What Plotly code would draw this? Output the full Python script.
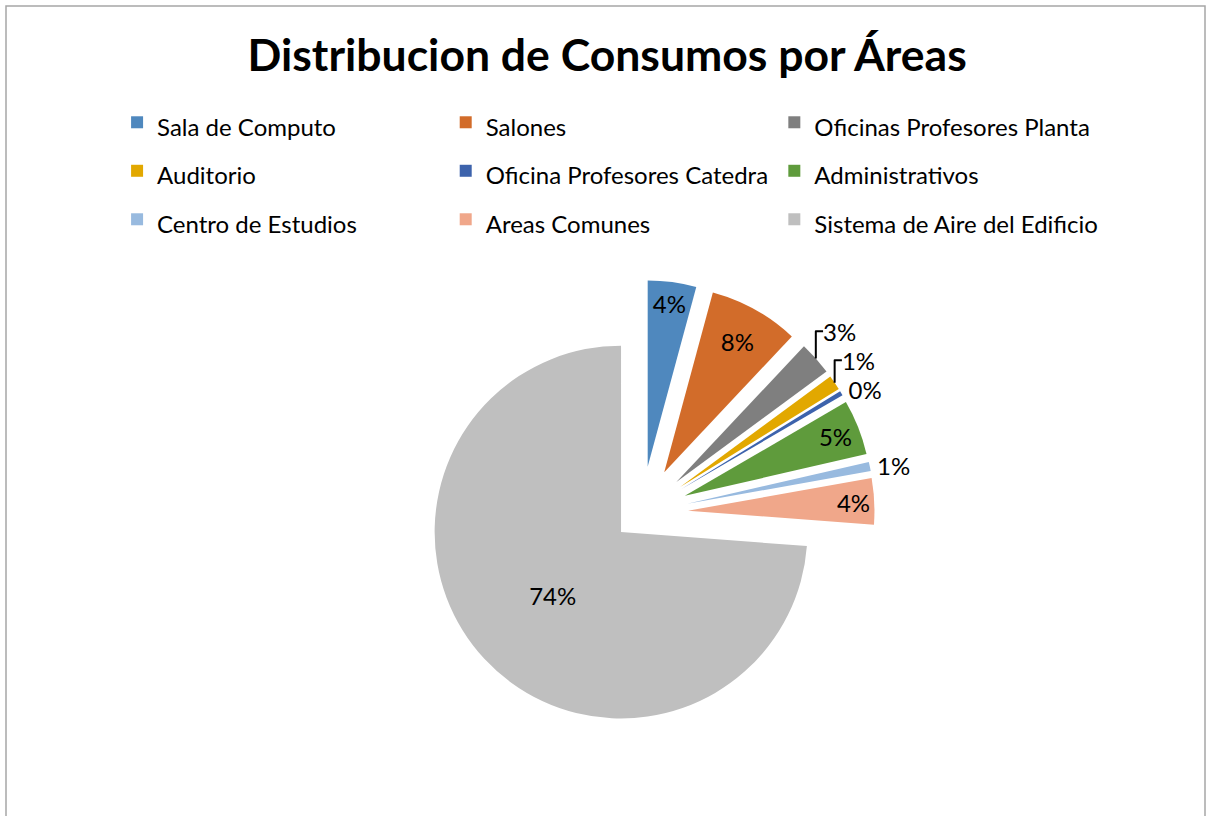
import plotly.graph_objects as go

# datos del grafico
areas = ["Sala de Computo", "Salones", "Oficinas Profesores Planta", "Auditorio",
         "Oficina Profesores Catedra", "Administrativos", "Centro de Estudios",
         "Areas Comunes", "Sistema de Aire del Edificio"]
consumo = [4.2, 7.8, 2.9, 1.3, 0.4, 4.8, 0.8, 4.0, 73.8]
colores = ["#4F88BE", "#D26C2A", "#7F7F7F", "#E2A800", "#3D63AC",
           "#5F9B3C", "#98BADF", "#F0A78A", "#BFBFBF"]
separacion = [0.25, 0.25, 0.25, 0.25, 0.25, 0.25, 0.25, 0.25, 0.15]
pos_texto = ["inside", "inside", "outside", "outside", "outside",
             "inside", "outside", "inside", "inside"]

fuente = "Lato"

# truco: fuente de leyenda grande para mas espacio entre filas
etiquetas = ["<span style='font-size:24px'>%s</span>" % a for a in areas]

fig = go.Figure()
fig.add_trace(go.Pie(
    labels=etiquetas,
    values=consumo,
    sort=False,
    direction="clockwise",
    rotation=0,
    pull=separacion,
    marker=dict(colors=colores, line=dict(width=0)),
    texttemplate="%{percent:.0%}",
    textposition=pos_texto,
    insidetextorientation="horizontal",
    textfont=dict(family=fuente, size=24, color="black"),
    domain=dict(x=[0.3356, 0.7245], y=[0.0864, 0.6617]),
    hoverinfo="skip",
))

fig.update_layout(
    width=1207, height=816,
    margin=dict(l=6, r=2, t=6, b=0, autoexpand=False),
    paper_bgcolor="white",
    plot_bgcolor="white",
    font=dict(family=fuente, color="black"),
    uniformtext=dict(minsize=24, mode="show"),
    title=dict(text="<b>Distribucion de Consumos por Áreas</b>",
               font=dict(family=fuente, size=44.5, color="black"),
               x=0.503, xanchor="center", y=0.932, yanchor="middle",
               xref="container", yref="container"),
    legend=dict(orientation="h", xref="container", yref="container",
                x=0.097, y=0.886, xanchor="left", yanchor="top",
                font=dict(family=fuente, size=35),
                itemwidth=30, traceorder="normal"),
    shapes=[dict(type="rect", xref="paper", yref="paper",
                 x0=0, x1=1, y0=-0.05, y1=1,
                 line=dict(color="#A6A6A6", width=1.5))],
)

# quitar el margen del body para que el grafico empiece en 0,0
fig.write_html("out.html", config={"displayModeBar": False},
               post_script="document.body.style.margin='0';")
